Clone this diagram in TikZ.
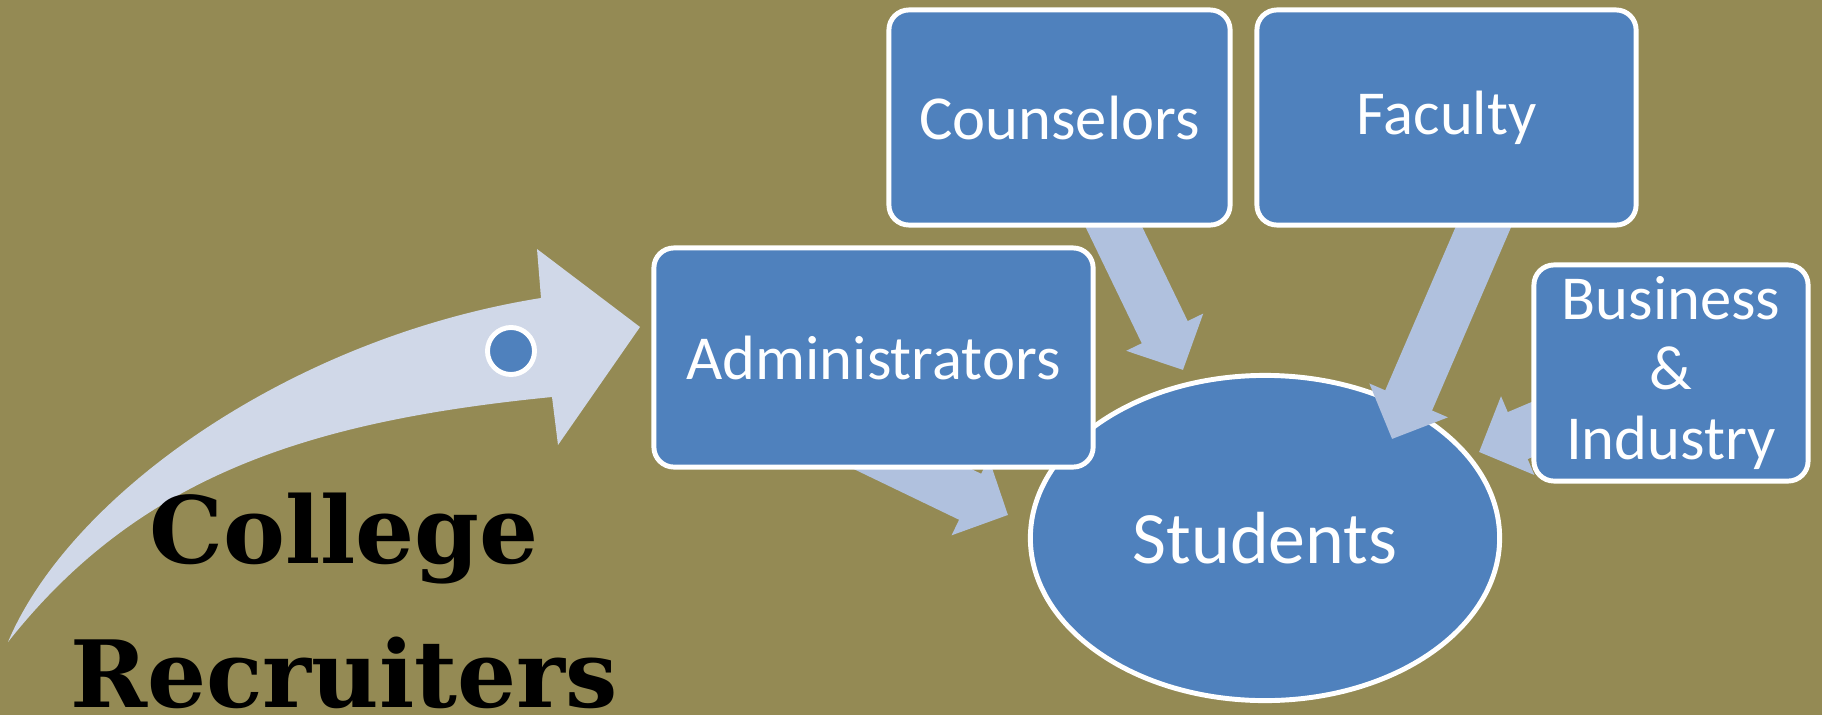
\documentclass[tikz,border=0pt]{standalone}
\usepackage{fontspec}
\setmainfont{Carlito}
\newfontfamily\titlefont{DejaVu Serif}
\usetikzlibrary{arrows.meta, shapes.geometric}
\definecolor{bgolive}{HTML}{948A54}
\definecolor{boxblue}{HTML}{4F81BD}
\definecolor{flowblue}{RGB}{176,193,222}
\definecolor{paleblue}{RGB}{208,216,232}
\pgfdeclarelayer{back}
\pgfdeclarelayer{mid}
\pgfsetlayers{back,mid,main}

\begin{document}
\begin{tikzpicture}[x=0.01cm, y=-0.01cm,
  box/.style={draw=white, line width=1.4pt, fill=boxblue, rounded corners=0.2cm,
    text=white, font=\fontsize{17.8}{20}\selectfont, align=center, inner sep=0pt},
  flow/.style={draw=flowblue, line width=0.51cm, -{Triangle[width=0.83cm, length=0.42cm]}},
  title/.style={font=\titlefont\bfseries\fontsize{26.4}{30}\selectfont, anchor=base}]
\useasboundingbox (0,0) rectangle (1822,715);

\begin{pgfonlayer}{back}
\fill[bgolive] (0,0) rectangle (1822,715);
% sweeping arrow on the left
\fill[paleblue] (8,642) .. controls (70,495) and (290,338) .. (541,298)
  -- (537,249) -- (640,327) -- (558,445) -- (552,397)
  .. controls (310,421) and (140,475) .. (8,642) -- cycle;
\node[ellipse, draw=white, line width=1.4pt, fill=boxblue, minimum width=4.69cm,
  minimum height=3.25cm, inner sep=0pt, text=white,
  font=\fontsize{21}{25}\selectfont] (stud) at (1265,538) {Students};
\end{pgfonlayer}

\node[circle, draw=white, line width=1.4pt, fill=boxblue, minimum size=0.47cm, inner sep=0pt] (dot) at (511,351) {};
\node[title] (college) at (344,563) {College};
\node[title] (recruit) at (344,707) {Recruiters};

\node[box, minimum width=3.41cm, minimum height=2.15cm] (couns) at (1059.5,117.5) {Counselors};
\node[box, minimum width=3.79cm, minimum height=2.15cm] (fac) at (1446.5,117.5) {Faculty};
\node[box, minimum width=4.39cm, minimum height=2.19cm] (admin) at (873.5,357.5) {Administrators};
\node[box, minimum width=2.74cm, minimum height=2.16cm] (biz) at (1671,373) {Business\\\&\\Industry};

% arrow ends
\coordinate (cStart) at (1095,188);
\coordinate (cTip) at (1183,370);
\coordinate (fStart) at (1495,200);
\coordinate (fTip) at (1392,439);
\coordinate (aStart) at (792,411);
\coordinate (aTip) at (1008,515);
\coordinate (bStart) at (1571,413);
\coordinate (bTip) at (1479,452);

\begin{pgfonlayer}{mid}
\draw[flow] (cStart) -- (cTip);
\draw[flow] (fStart) -- (fTip);
\draw[flow] (aStart) -- (aTip);
\draw[flow] (bStart) -- (bTip);
\end{pgfonlayer}
\end{tikzpicture}
\end{document}
